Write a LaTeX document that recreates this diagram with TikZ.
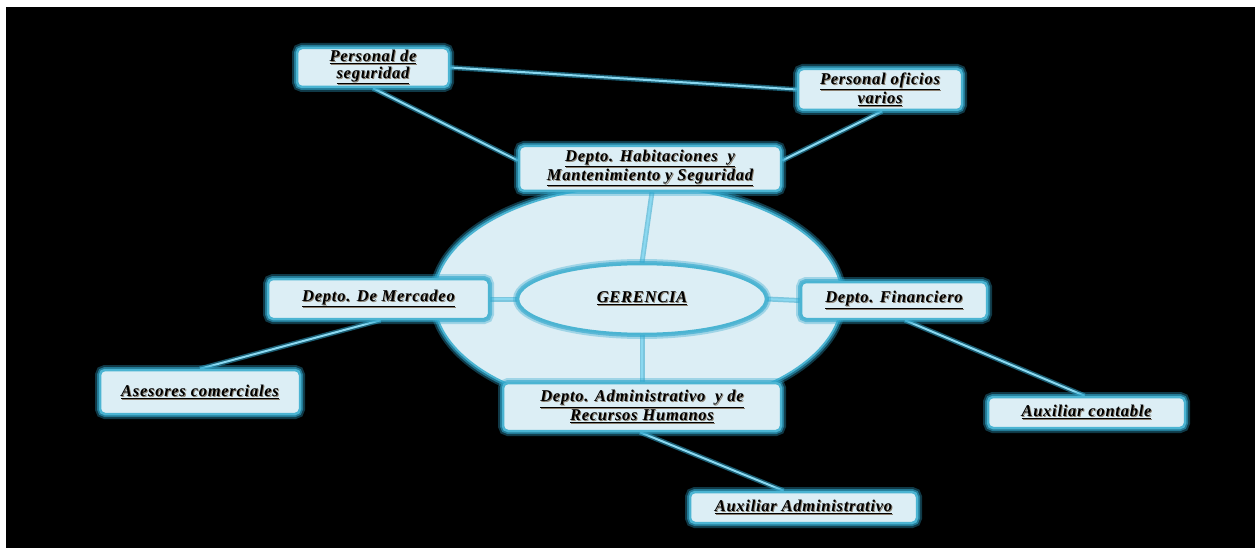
\documentclass[tikz,border=0pt]{standalone}
\usepackage{fontspec}
\setmainfont{Liberation Serif}
\usetikzlibrary{shapes.geometric}
\definecolor{boxfill}{HTML}{DCEEF5}
\definecolor{boxline}{HTML}{4BB4D2}
\definecolor{glowc}{HTML}{2EA6CC}
\definecolor{conn}{HTML}{8AD8F0}
\definecolor{shadowc}{HTML}{8A7F70}
\pgfdeclarelayer{back}
\pgfdeclarelayer{mid}
\pgfsetlayers{back,mid,main}
\newcommand{\ul}[1]{\leavevmode\rlap{\hspace{1pt}\raisebox{-1pt}{\textcolor{shadowc}{\underline{#1}}}}\underline{#1}}
\begin{document}
\begin{tikzpicture}[x=1pt,y=-1pt,
  lbl/.style={font=\bfseries\itshape\fontsize{16.5}{17}\selectfont\addfontfeature{LetterSpace=4.5}, align=center},
  stepbox/.style={lbl, draw=boxline, line width=2.5pt, fill=boxfill, rounded corners=5pt, inner sep=0pt,
     preaction={draw=glowc, draw opacity=0.35, line width=10pt},
     preaction={draw=glowc, draw opacity=0.6, line width=6pt}},
  ell/.style={lbl, ellipse, draw=boxline, line width=2.5pt, fill=boxfill, inner sep=0pt,
     preaction={draw=glowc, draw opacity=0.35, line width=10pt},
     preaction={draw=glowc, draw opacity=0.6, line width=6pt}},
  conn/.style={draw=conn, line width=2pt, preaction={draw=glowc, draw opacity=0.55, line width=5pt}}
]
\useasboundingbox (0,0) rectangle (1255,548);
\begin{pgfonlayer}{back}
\fill[white] (0,0) rectangle (1255,548);
\fill[black] (6,7) rectangle (1255,548);
\node[ellipse, fill=boxfill, draw=boxline, line width=2pt, minimum width=408pt, minimum height=224pt,
      preaction={draw=glowc, draw opacity=0.35, line width=10pt},
      preaction={draw=glowc, draw opacity=0.6, line width=6pt}] (big) at (638,298) {};
\end{pgfonlayer}

\node[ell, minimum width=248pt, minimum height=70pt] (ger) at (642,299) {\ul{GERENCIA}};
\node[stepbox, minimum width=262pt, minimum height=45pt] (hab) at (650,168.5) {\ul{Depto. Habitaciones \ y}\\\ul{Mantenimiento y Seguridad}};
\node[stepbox, minimum width=152pt, minimum height=39pt] (pseg) at (373,67.5) {\ul{Personal de}\\\ul{seguridad}};
\node[stepbox, minimum width=164pt, minimum height=41pt] (pof) at (880,89.5) {\ul{Personal oficios}\\\ul{varios}};
\node[stepbox, minimum width=221pt, minimum height=40pt] (merc) at (378.5,299) {\ul{Depto. De Mercadeo}};
\node[stepbox, minimum width=186pt, minimum height=37pt] (fin) at (894,300.5) {\ul{Depto. Financiero}};
\node[stepbox, minimum width=200pt, minimum height=44pt] (ases) at (200,392) {\ul{Asesores comerciales}};
\node[stepbox, minimum width=278pt, minimum height=48pt] (adm) at (642,407) {\ul{Depto. Administrativo \ y de}\\\ul{Recursos Humanos}};
\node[stepbox, minimum width=227pt, minimum height=31pt] (auxadm) at (803.5,507.5) {\ul{Auxiliar Administrativo}};
\node[stepbox, minimum width=197pt, minimum height=31pt] (auxcont) at (1086.5,412.5) {\ul{Auxiliar contable}};

\begin{pgfonlayer}{mid}
\draw[conn] (pseg.east) -- (pof.west);
\draw[conn] (pseg.south) -- ([yshift=8pt]hab.west);
\draw[conn] ([xshift=2pt]pof.south) -- ([yshift=8pt]hab.east);
\draw[conn] ([xshift=2pt]hab.south) -- (ger.north);
\draw[conn] (merc.east) -- (ger.west);
\draw[conn] (ger.east) -- (fin.west);
\draw[conn] (ger.south) -- (adm.north);
\draw[conn] ([xshift=2pt]merc.south) -- (ases.north);
\draw[conn] ([xshift=11pt]fin.south) -- ([xshift=-2pt]auxcont.north);
\draw[conn] ([xshift=-2pt]adm.south) -- ([xshift=-20pt]auxadm.north);
\end{pgfonlayer}
\end{tikzpicture}
\end{document}
